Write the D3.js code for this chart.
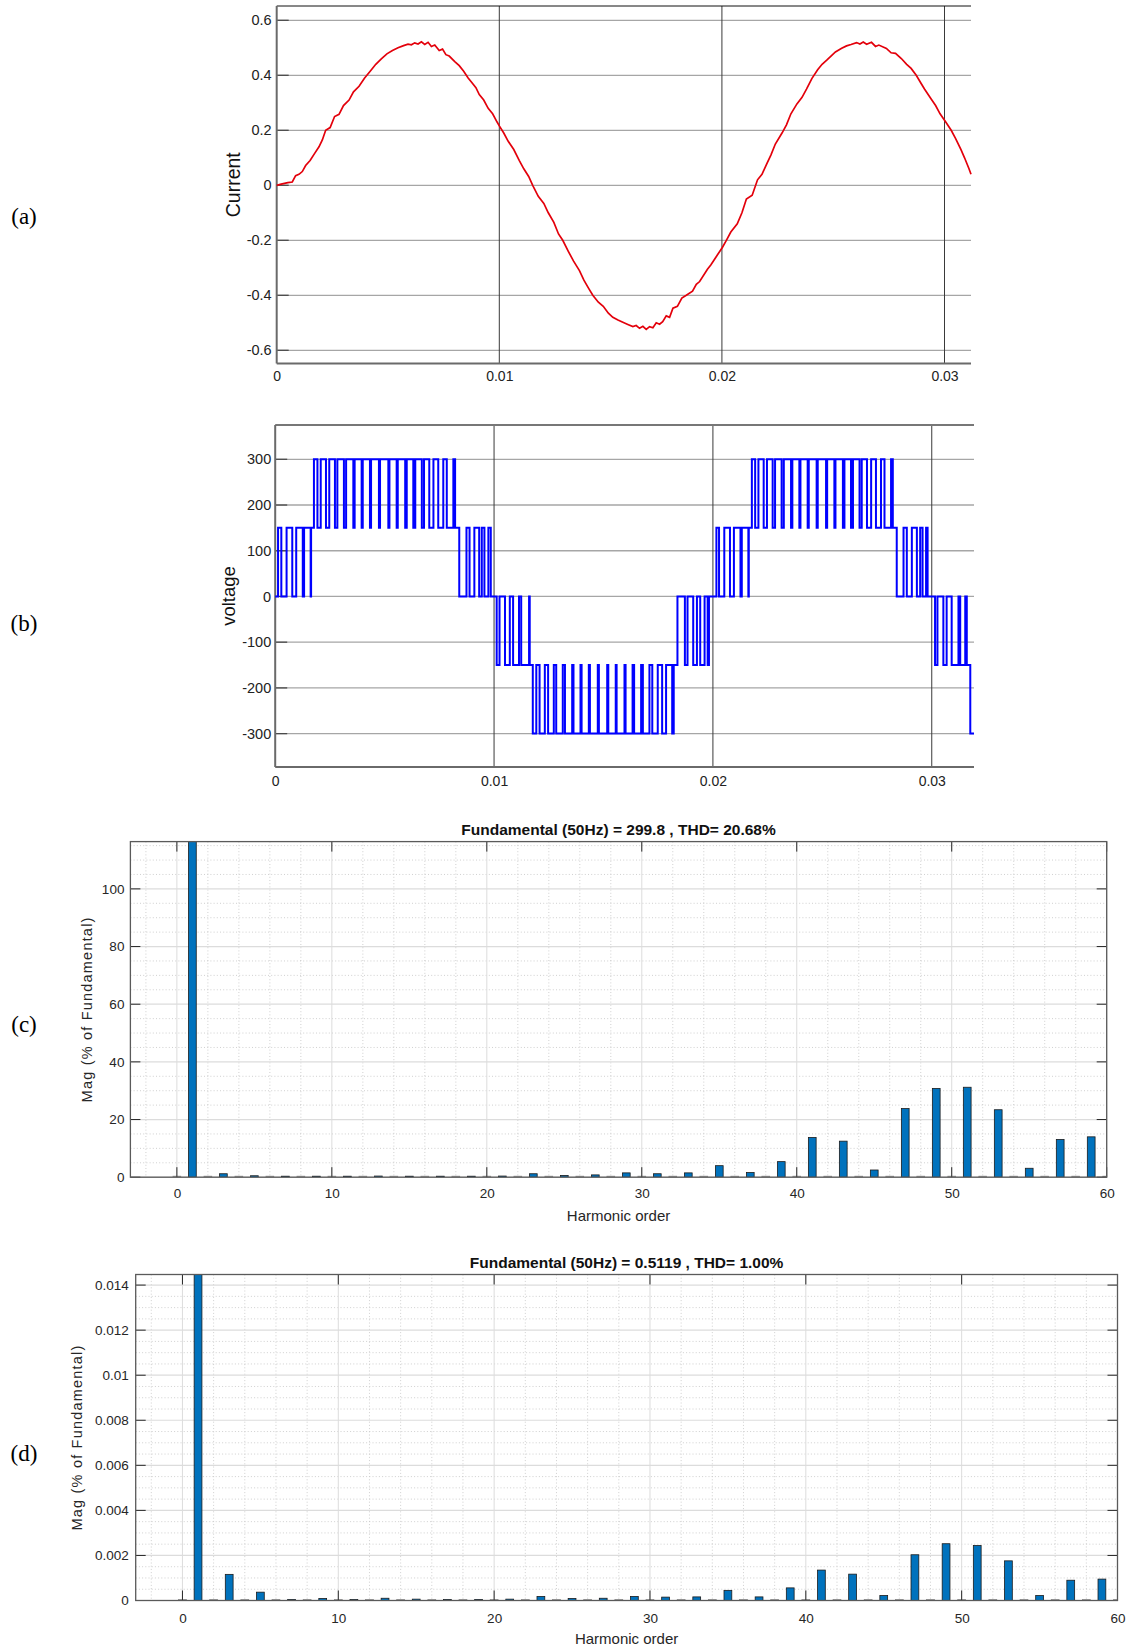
<!DOCTYPE html>
<html>
<head>
<meta charset="utf-8">
<script src="https://cdn.jsdelivr.net/npm/d3@7"></script>
<style>
  body { margin: 0; background: #fff; }
  svg { display: block; }
</style>
</head>
<body>
<div id="chart"></div>
<script>
// ---------- data ----------
// (a) load current, time in ms
const curT = [0,0.2,0.4,0.5,0.7,0.85,1.0,1.15,1.3,1.5,1.72,1.9,2.05,2.2,2.4,2.6,2.8,3.0,3.25,3.45,3.7,3.95,4.2,4.45,4.7,4.95,5.2,5.45,5.7,5.9,6.05,6.2,6.35,6.5,6.65,6.8,6.95,7.1,7.3,7.45,7.6,7.75,8.0,8.2,8.4,8.6,8.8,8.95,9.1,9.3,9.5,9.7,9.9,10.0,10.2,10.4,10.65,10.9,11.1,11.32,11.5,11.75,12.0,12.2,12.45,12.66,12.85,13.1,13.33,13.6,13.8,14.0,14.2,14.45,14.67,14.9,15.1,15.33,15.6,15.8,16.0,16.15,16.3,16.45,16.6,16.75,16.9,17.05,17.2,17.34,17.5,17.65,17.8,18.0,18.2,18.4,18.68,18.85,19.0,19.35,19.5,19.7,20.02,20.2,20.4,20.69,20.9,21.1,21.36,21.6,21.8,22.03,22.2,22.4,22.7,22.9,23.1,23.37,23.6,23.8,24.04,24.3,24.5,24.71,24.9,25.1,25.38,25.6,25.8,26.05,26.2,26.35,26.5,26.72,26.9,27.05,27.39,27.6,27.8,28.06,28.3,28.5,28.73,28.95,29.1,29.4,29.6,29.8,30.07,30.3,30.5,30.74,30.9,31.1,31.19];
const curI = [0,0.004,0.008,0.01,0.012,0.035,0.04,0.05,0.072,0.09,0.118,0.14,0.165,0.2,0.21,0.25,0.258,0.29,0.31,0.34,0.36,0.39,0.415,0.44,0.46,0.478,0.49,0.5,0.508,0.513,0.511,0.518,0.514,0.522,0.512,0.52,0.505,0.51,0.49,0.495,0.475,0.47,0.45,0.435,0.415,0.39,0.37,0.355,0.33,0.31,0.28,0.26,0.23,0.216,0.19,0.16,0.13,0.09,0.06,0.032,0.0,-0.04,-0.066,-0.1,-0.135,-0.177,-0.2,-0.24,-0.275,-0.31,-0.345,-0.373,-0.4,-0.425,-0.44,-0.465,-0.48,-0.49,-0.5,-0.507,-0.514,-0.51,-0.52,-0.513,-0.524,-0.514,-0.518,-0.5,-0.505,-0.496,-0.475,-0.48,-0.447,-0.44,-0.41,-0.4,-0.385,-0.36,-0.35,-0.305,-0.29,-0.265,-0.226,-0.2,-0.17,-0.14,-0.1,-0.05,-0.036,0.02,0.04,0.081,0.11,0.15,0.19,0.22,0.26,0.296,0.32,0.35,0.388,0.42,0.44,0.455,0.47,0.485,0.498,0.507,0.512,0.519,0.514,0.521,0.513,0.52,0.505,0.51,0.498,0.482,0.48,0.461,0.44,0.425,0.4,0.37,0.35,0.314,0.29,0.26,0.228,0.2,0.17,0.13,0.1,0.06,0.04];

// (b) inverter output voltage: [time ms, level held from that time]
const voltSteps = [
  [0,0],[0.13,150],[0.28,0],[0.52,150],[0.78,0],[0.96,150],[1.26,0],[1.32,150],[1.62,0],[1.64,150],
  [1.77,300],[1.93,150],[2.08,300],[2.32,150],[2.47,300],[2.73,150],[2.84,300],[3.14,150],[3.24,300],[3.57,150],
  [3.63,300],[3.95,150],[4.00,300],[4.33,150],[4.38,300],[4.74,150],[4.79,300],[5.17,150],[5.22,300],[5.55,150],
  [5.60,300],[5.94,150],[6.01,300],[6.31,150],[6.40,300],[6.70,150],[6.80,300],[7.04,150],[7.23,300],[7.45,150],
  [7.68,300],[7.84,150],[8.14,300],[8.22,150],
  [8.41,0],[8.74,150],[8.88,0],[9.10,150],[9.32,0],[9.44,150],[9.56,0],[9.74,150],[9.85,0],
  [10.12,-150],[10.25,0],[10.50,-150],[10.72,0],[10.87,-150],[11.14,0],[11.24,-150],[11.60,0],[11.63,-150],
  [11.77,-300],[11.93,-150],[12.08,-300],[12.32,-150],[12.47,-300],[12.73,-150],[12.84,-300],[13.14,-150],[13.24,-300],[13.57,-150],
  [13.63,-300],[13.95,-150],[14.00,-300],[14.33,-150],[14.38,-300],[14.74,-150],[14.79,-300],[15.17,-150],[15.22,-300],[15.56,-150],
  [15.60,-300],[15.96,-150],[16.01,-300],[16.33,-150],[16.40,-300],[16.72,-150],[16.80,-300],[17.10,-150],[17.23,-300],[17.48,-150],
  [17.68,-300],[17.86,-150],[18.14,-300],[18.21,-150],
  [18.38,0],[18.72,-150],[18.84,0],[19.10,-150],[19.27,0],[19.42,-150],[19.62,0],[19.76,-150],[19.82,0],
  [20.16,150],[20.28,0],[20.52,150],[20.78,0],[20.96,150],[21.26,0],[21.32,150],[21.62,0],[21.64,150],
  [21.78,300],[21.93,150],[22.08,300],[22.32,150],[22.47,300],[22.73,150],[22.84,300],[23.14,150],[23.24,300],[23.57,150],
  [23.63,300],[23.95,150],[24.00,300],[24.33,150],[24.38,300],[24.74,150],[24.79,300],[25.17,150],[25.22,300],[25.55,150],
  [25.60,300],[25.94,150],[26.01,300],[26.31,150],[26.40,300],[26.70,150],[26.80,300],[27.04,150],[27.23,300],[27.45,150],
  [27.68,300],[27.84,150],[28.14,300],[28.22,150],
  [28.40,0],[28.71,150],[28.86,0],[29.09,150],[29.32,0],[29.47,150],[29.58,0],[29.74,150],[29.81,0],
  [30.15,-150],[30.26,0],[30.53,-150],[30.68,0],[30.91,-150],[31.22,0],[31.30,-150],[31.53,0],[31.60,-150],
  [31.76,-300],[31.93,-300]
];

// (c) voltage spectrum, harmonic order 0..60 (% of fundamental)
const magVoltage = [0.08,120,0.08,1.2,0.08,0.5,0.08,0.2,0.08,0.3,0.08,0.2,0.08,0.4,0.08,0.2,0.08,0.2,0.08,0.2,
  0.08,0.4,0.08,1.2,0.08,0.6,0.08,0.8,0.08,1.5,0.08,1.2,0.08,1.5,0.08,4.0,0.08,1.6,0.08,5.4,
  0.08,13.8,0.08,12.5,0.08,2.5,0.08,23.8,0.08,30.8,0.08,31.2,0.08,23.4,0.08,3.1,0.08,13.1,0.08,14.0,0.08];
// (d) current spectrum, harmonic order 0..60
const magCurrent = [0.00001,0.016,0.00001,0.00116,0.00001,0.00037,0.00001,0.00003,0.00001,0.00009,
  0.00001,0.00003,0.00001,0.0001,0.00001,0.00006,0.00001,0.00003,0.00001,0.00003,
  0.00001,0.00006,0.00001,0.00018,0.00001,0.00009,0.00001,0.0001,0.00001,0.00018,
  0.00001,0.00015,0.00001,0.00016,0.00001,0.00045,0.00001,0.00016,0.00001,0.00056,
  0.00001,0.00135,0.00001,0.00117,0.00001,0.00022,0.00001,0.00203,0.00001,0.00252,
  0.00001,0.00244,0.00001,0.00176,0.00001,0.00022,0.00001,0.0009,0.00001,0.00095,0.00001];

const timeTicks = [0, 0.01, 0.02, 0.03];
const timeLabels = ["0", "0.01", "0.02", "0.03"];
const curTicks = [-0.6, -0.4, -0.2, 0, 0.2, 0.4, 0.6];
const curLabels = ["-0.6", "-0.4", "-0.2", "0", "0.2", "0.4", "0.6"];
const voltTicks = [-300, -200, -100, 0, 100, 200, 300];
const voltLabels = ["-300", "-200", "-100", "0", "100", "200", "300"];
const harmTicks = [0, 10, 20, 30, 40, 50, 60];
const magVTicks = [0, 20, 40, 60, 80, 100];
const magITicks = [0, 0.002, 0.004, 0.006, 0.008, 0.01, 0.012, 0.014];
const magILabels = ["0", "0.002", "0.004", "0.006", "0.008", "0.01", "0.012", "0.014"];

const FONT = "'Liberation Sans', Arial, Helvetica, sans-serif";

const svg = d3.select("#chart").append("svg")
  .attr("width", 1132).attr("height", 1649)
  .style("background", "#fff");

// panel letters
[["(a)", 216], ["(b)", 623], ["(c)", 1024], ["(d)", 1453]].forEach(p => {
  svg.append("text").attr("x", 24).attr("y", p[1]).attr("dy", "0.35em")
    .attr("text-anchor", "middle")
    .style("font-family", "'Liberation Serif', 'Times New Roman', serif")
    .style("font-size", "23px").text(p[0]);
});

/**
 * Scope-style time plot (panels a, b)
 */
function drawScope(cfg) {
  const g = svg.append("g");
  const x = d3.scaleLinear().domain(cfg.xDomain).range([cfg.left, cfg.right]);
  const y = d3.scaleLinear().domain(cfg.yDomain).range([cfg.bottom, cfg.top]);

  // horizontal grid
  g.selectAll(null).data(cfg.yTicks).enter().append("line")
    .attr("x1", cfg.left).attr("x2", cfg.right)
    .attr("y1", d => y(d)).attr("y2", d => y(d))
    .attr("stroke", "#a6a6a6").attr("stroke-width", 1.3);
  // short dark ticks on the left
  g.selectAll(null).data(cfg.yTicks).enter().append("line")
    .attr("x1", cfg.left).attr("x2", cfg.left + 12)
    .attr("y1", d => y(d)).attr("y2", d => y(d))
    .attr("stroke", "#4a4a4a").attr("stroke-width", 1.3);
  // vertical grid
  g.selectAll(null).data(cfg.xTicks.filter(d => d > 0)).enter().append("line")
    .attr("x1", d => x(d)).attr("x2", d => x(d))
    .attr("y1", cfg.top).attr("y2", cfg.bottom)
    .attr("stroke", "#3a3a3a").attr("stroke-width", 1);

  // frame: left, bottom, top
  g.append("line").attr("x1", cfg.left).attr("x2", cfg.right)
    .attr("y1", cfg.top).attr("y2", cfg.top)
    .attr("stroke", cfg.topColor).attr("stroke-width", cfg.topWidth);
  g.append("line").attr("x1", cfg.left).attr("x2", cfg.left)
    .attr("y1", cfg.top).attr("y2", cfg.bottom)
    .attr("stroke", "#6a6a6a").attr("stroke-width", 2);
  g.append("line").attr("x1", cfg.left).attr("x2", cfg.right)
    .attr("y1", cfg.bottom).attr("y2", cfg.bottom)
    .attr("stroke", "#6a6a6a").attr("stroke-width", 2);

  // tick labels
  g.append("g").attr("transform", "translate(0," + cfg.bottom + ")")
    .call(d3.axisBottom(x).tickValues(cfg.xTicks)
      .tickFormat((d, i) => cfg.xLabels[i]).tickSize(0).tickPadding(cfg.xPad))
    .call(a => a.select(".domain").remove())
    .call(a => a.selectAll("text").style("font-family", FONT).style("font-size", "14px").attr("fill", "#222"));
  g.append("g").attr("transform", "translate(" + cfg.left + ",0)")
    .call(d3.axisLeft(y).tickValues(cfg.yTicks)
      .tickFormat((d, i) => cfg.yLabels[i]).tickSize(0).tickPadding(cfg.yPad))
    .call(a => a.select(".domain").remove())
    .call(a => a.selectAll("text").style("font-family", FONT).style("font-size", "14.5px").attr("fill", "#222"));

  // y label
  g.append("text")
    .attr("transform", "translate(" + cfg.labelX + "," + (cfg.top + cfg.bottom) / 2 + ") rotate(-90)")
    .attr("text-anchor", "middle").attr("dy", "0.35em")
    .style("font-family", FONT).style("font-size", cfg.labelSize).attr("fill", "#111")
    .text(cfg.label);

  return {g, x, y};
}

// ---------- (a) current ----------
const pa = drawScope({
  left: 276.7, right: 971, top: 6, bottom: 363.5,
  xDomain: [0, 0.03119], yDomain: [-0.648, 0.652],
  xTicks: timeTicks, xLabels: timeLabels, yTicks: curTicks, yLabels: curLabels,
  xPad: 8, yPad: 5, topColor: "#111", topWidth: 1,
  label: "Current", labelX: 233, labelSize: "19.5px"
});
pa.g.append("path")
  .datum(curT.map((t, i) => [t / 1000, curI[i]]))
  .attr("fill", "none").attr("stroke", "#e3000b").attr("stroke-width", 1.7)
  .attr("d", d3.line().x(d => pa.x(d[0])).y(d => pa.y(d[1])));

// ---------- (b) voltage ----------
const pb = drawScope({
  left: 275.2, right: 974, top: 425, bottom: 767,
  xDomain: [0, 0.03193], yDomain: [-373, 375],
  xTicks: timeTicks, xLabels: timeLabels, yTicks: voltTicks, yLabels: voltLabels,
  xPad: 9.5, yPad: 4, topColor: "#777", topWidth: 2,
  label: "voltage", labelX: 229, labelSize: "18.5px"
});
pb.g.append("path")
  .datum(voltSteps.map(d => [d[0] / 1000, d[1]]))
  .attr("fill", "none").attr("stroke", "#0000ff").attr("stroke-width", 2)
  .attr("d", d3.line().curve(d3.curveStepAfter).x(d => pb.x(d[0])).y(d => pb.y(d[1])));

/**
 * FFT bar spectrum (panels c, d)
 */
function drawSpectrum(cfg) {
  const g = svg.append("g");
  const x = d3.scaleLinear().domain([-3, 60]).range([cfg.left, cfg.right]);
  const y = d3.scaleLinear().domain(cfg.yDomain).range([cfg.bottom, cfg.top]);
  const clipId = "clip" + cfg.id;
  svg.append("clipPath").attr("id", clipId).append("rect")
    .attr("x", cfg.left).attr("y", cfg.top)
    .attr("width", cfg.right - cfg.left).attr("height", cfg.bottom - cfg.top);

  // minor grid
  const minorX = d3.range(-2, 60, 2).filter(v => v % 10 !== 0);
  const minorY = d3.range(0, cfg.yDomain[1], cfg.minorStep)
    .filter(v => cfg.yTicks.every(t => Math.abs(t - v) > cfg.minorStep / 10));
  g.selectAll(null).data(minorX).enter().append("line")
    .attr("x1", d => x(d)).attr("x2", d => x(d)).attr("y1", cfg.top).attr("y2", cfg.bottom)
    .attr("stroke", "#c4c4c4").attr("stroke-width", 0.8).attr("stroke-dasharray", "1,2.2");
  g.selectAll(null).data(minorY).enter().append("line")
    .attr("x1", cfg.left).attr("x2", cfg.right).attr("y1", d => y(d)).attr("y2", d => y(d))
    .attr("stroke", "#c4c4c4").attr("stroke-width", 0.8).attr("stroke-dasharray", "1,2.2");
  // major grid
  g.selectAll(null).data(harmTicks).enter().append("line")
    .attr("x1", d => x(d)).attr("x2", d => x(d)).attr("y1", cfg.top).attr("y2", cfg.bottom)
    .attr("stroke", "#dcdcdc").attr("stroke-width", 1);
  g.selectAll(null).data(cfg.yTicks).enter().append("line")
    .attr("x1", cfg.left).attr("x2", cfg.right).attr("y1", d => y(d)).attr("y2", d => y(d))
    .attr("stroke", "#dcdcdc").attr("stroke-width", 1.2);

  // bars
  const bw = x(0.5) - x(0);
  g.append("g").attr("clip-path", "url(#" + clipId + ")")
    .selectAll("rect").data(cfg.values).enter().append("rect")
    .attr("x", (d, i) => x(i) - bw / 2)
    .attr("y", d => Math.min(y(d), y(0) - 1))
    .attr("width", bw)
    .attr("height", d => Math.max(1, y(0) - y(d)))
    .attr("fill", (d, i) => i % 2 === 1 ? "#0072bd" : "#a0a0a0")
    .attr("stroke", (d, i) => i % 2 === 1 ? "#1c1c1c" : "#909090")
    .attr("stroke-width", 0.8);

  // inward ticks on all sides
  const tk = 10;
  harmTicks.forEach(v => {
    g.append("line").attr("x1", x(v)).attr("x2", x(v)).attr("y1", cfg.bottom).attr("y2", cfg.bottom - tk)
      .attr("stroke", "#262626").attr("stroke-width", 1);
    g.append("line").attr("x1", x(v)).attr("x2", x(v)).attr("y1", cfg.top).attr("y2", cfg.top + tk)
      .attr("stroke", "#262626").attr("stroke-width", 1);
  });
  cfg.yTicks.forEach(v => {
    g.append("line").attr("x1", cfg.left).attr("x2", cfg.left + tk).attr("y1", y(v)).attr("y2", y(v))
      .attr("stroke", "#262626").attr("stroke-width", 1);
    g.append("line").attr("x1", cfg.right).attr("x2", cfg.right - tk).attr("y1", y(v)).attr("y2", y(v))
      .attr("stroke", "#262626").attr("stroke-width", 1);
  });

  // box
  g.append("rect").attr("x", cfg.left).attr("y", cfg.top)
    .attr("width", cfg.right - cfg.left).attr("height", cfg.bottom - cfg.top)
    .attr("fill", "none").attr("stroke", "#5a5a5a").attr("stroke-width", 1.3);

  // tick labels
  g.append("g").attr("transform", "translate(0," + cfg.bottom + ")")
    .call(d3.axisBottom(x).tickValues(harmTicks).tickFormat(d3.format("d")).tickSize(0).tickPadding(cfg.xPad))
    .call(a => a.select(".domain").remove())
    .call(a => a.selectAll("text").style("font-family", FONT).style("font-size", "13.5px").attr("fill", "#262626"));
  g.append("g").attr("transform", "translate(" + cfg.left + ",0)")
    .call(d3.axisLeft(y).tickValues(cfg.yTicks).tickFormat((d, i) => cfg.yLabels[i]).tickSize(0).tickPadding(cfg.yPad))
    .call(a => a.select(".domain").remove())
    .call(a => a.selectAll("text").style("font-family", FONT).style("font-size", "13.5px").attr("fill", "#262626"));

  // title
  g.append("text").attr("x", (cfg.left + cfg.right) / 2).attr("y", cfg.top - 6.5)
    .attr("text-anchor", "middle")
    .style("font-family", FONT).style("font-size", "15.5px").style("font-weight", "bold").attr("fill", "#111")
    .text(cfg.title);
  // x label
  g.append("text").attr("x", (cfg.left + cfg.right) / 2).attr("y", cfg.xLabelY)
    .attr("text-anchor", "middle").attr("dy", "0.35em")
    .style("font-family", FONT).style("font-size", "15px").attr("fill", "#262626")
    .text("Harmonic order");
  // y label
  g.append("text")
    .attr("transform", "translate(" + cfg.yLabelX + "," + (cfg.top + cfg.bottom) / 2 + ") rotate(-90)")
    .attr("text-anchor", "middle").attr("dy", "0.35em")
    .style("font-family", FONT).style("font-size", "14.5px").style("letter-spacing", "1.2px").attr("fill", "#262626")
    .text("Mag (% of Fundamental)");
}

// ---------- (c) voltage spectrum ----------
drawSpectrum({
  id: "c", left: 130.4, right: 1106.7, top: 841.6, bottom: 1177.2,
  yDomain: [0, 116.4], yTicks: magVTicks, yLabels: magVTicks.map(String), minorStep: 5,
  values: magVoltage, xPad: 11, yPad: 6, xLabelY: 1216, yLabelX: 87,
  title: "Fundamental (50Hz) = 299.8 , THD= 20.68%"
});

// ---------- (d) current spectrum ----------
drawSpectrum({
  id: "d", left: 135.7, right: 1117.5, top: 1274.5, bottom: 1600.5,
  yDomain: [0, 0.01447], yTicks: magITicks, yLabels: magILabels, minorStep: 0.0005,
  values: magCurrent, xPad: 12.5, yPad: 7, xLabelY: 1639, yLabelX: 77,
  title: "Fundamental (50Hz) = 0.5119 , THD= 1.00%"
});
</script>
</body>
</html>
